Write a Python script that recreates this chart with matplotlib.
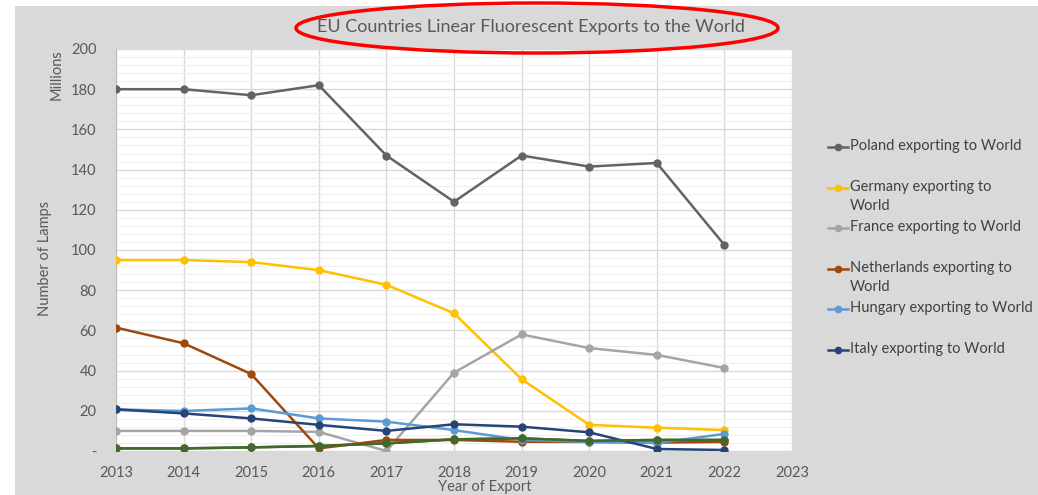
import matplotlib
matplotlib.use("Agg")
import matplotlib.pyplot as plt
from matplotlib.patches import Rectangle, Ellipse
from matplotlib.lines import Line2D
import numpy as np

plt.rcParams['font.family'] = ['Lato', 'DejaVu Sans']

years = [2013, 2014, 2015, 2016, 2017, 2018, 2019, 2020, 2021, 2022]
poland = [180, 180, 177, 182, 147, 124, 147, 141.5, 143.3, 102.5]
germany = [95, 95, 94, 90, 82.7, 68.5, 35.7, 13, 11.6, 10.4]
france = [10, 10, 10, 9.5, 0, 39, 58, 51.2, 47.8, 41.3]
netherlands = [61.4, 53.6, 38.3, 1.3, 5.5, 5.5, 4.6, 4.5, 4.2, 4.5]
hungary = [20.7, 19.9, 21.2, 16.2, 14.6, 10.4, 5.5, 4.5, 4.0, 8.5]
italy = [20.7, 18.7, 16.2, 13, 10, 13.3, 12.1, 9.3, 1, 0.5]
other_green = [1.3, 1.3, 1.8, 2.5, 3.8, 5.8, 6.3, 5, 5.5, 5.5]

series_names = ["Poland exporting to World", "Germany exporting to\nWorld",
                "France exporting to World", "Netherlands exporting to\nWorld",
                "Hungary exporting to World", "Italy exporting to World"]
title = "EU Countries Linear Fluorescent Exports to the World"
y_ticks = list(range(0, 201, 20))
y_tick_labels = ["-"] + [str(v) for v in y_ticks[1:]]
x_ticks = list(range(2013, 2024))

colors = ["#636363", "#ffc000", "#a5a5a5", "#9e480e", "#5b9bd5", "#264478"]
green_color = "#43682b"

W, H = 1038, 495
fig = plt.figure(figsize=(W / 100, H / 100), dpi=100, facecolor="white")

# gray chart background
fig.patches.append(Rectangle((15 / W, 0), 1 - 15 / W, 1 - 6 / H, transform=fig.transFigure,
                             facecolor="#d9d9d9", edgecolor="none", zorder=-10))

ax = fig.add_axes([116 / W, 1 - 451 / H, (792 - 116) / W, (451 - 49) / H])
ax.set_facecolor("white")
ax.set_xlim(2013, 2023)
ax.set_ylim(0, 200)
ax.set_xticks(x_ticks)
ax.set_xticklabels([str(x) for x in x_ticks])
ax.set_yticks(y_ticks)
ax.set_yticklabels(y_tick_labels)
ax.set_yticks(np.arange(0, 201, 4), minor=True)
ax.grid(True, which="minor", axis="y", color="#efefef", lw=0.8)
ax.grid(True, which="major", axis="y", color="#d9d9d9", lw=1.0)
ax.grid(True, which="major", axis="x", color="#d9d9d9", lw=1.0)
ax.set_axisbelow(True)
ax.tick_params(axis="both", which="both", length=0, colors="#595959", labelsize=10.5)
ax.tick_params(axis="y", pad=14)
ax.tick_params(axis="x", pad=10.5)
for s in ["top", "right", "bottom"]:
    ax.spines[s].set_visible(False)
ax.spines["left"].set_color("#bfbfbf")

all_series = [poland, germany, france, netherlands, hungary, italy]
ax.plot(years, other_green, color=green_color, lw=1.8, marker="o", ms=5, zorder=3)
for data, c in zip(all_series, colors):
    ax.plot(years, data, color=c, lw=1.8, marker="o", ms=5, zorder=3)
ax.plot(years, other_green, color=green_color, lw=1.8, marker="o", ms=5, zorder=4)

# axis labels
fig.text(485 / W, 1 - 487 / H, "Year of Export", ha="center", va="center",
         color="#595959", fontsize=10.5)
fig.text(45 / W, 1 - 258 / H, "Number of Lamps", ha="center", va="center",
         rotation=90, color="#595959", fontsize=10.5)
fig.text(57 / W, 1 - 75 / H, "Millions", ha="center", va="center",
         rotation=90, color="#595959", fontsize=10.5)

# title with red ellipse
fig.text(531 / W, 1 - 27 / H, title, ha="center", va="center",
         color="#595959", fontsize=13)
fig.patches.append(Ellipse((537 / W, 1 - 28 / H), 482 / W, 50 / H, transform=fig.transFigure,
                           facecolor="none", edgecolor="#ff0000", lw=2.5, zorder=5))

# legend (manual layout)
legend_y = [147, 188, 228, 269, 309, 350]
for name, c, yy in zip(series_names, colors, legend_y):
    fy = 1 - yy / H
    fig.lines.append(Line2D([828 / W, 848 / W], [fy, fy], transform=fig.transFigure,
                            color=c, lw=1.8, marker=None))
    fig.lines.append(Line2D([838 / W], [fy], transform=fig.transFigure,
                            color=c, marker="o", ms=4.5))
    fig.text(850 / W, fy + 8 / H, name, ha="left", va="top", color="#404040",
             fontsize=10.5, linespacing=1.45)

fig.savefig("out.png", dpi=100, facecolor=fig.get_facecolor())
